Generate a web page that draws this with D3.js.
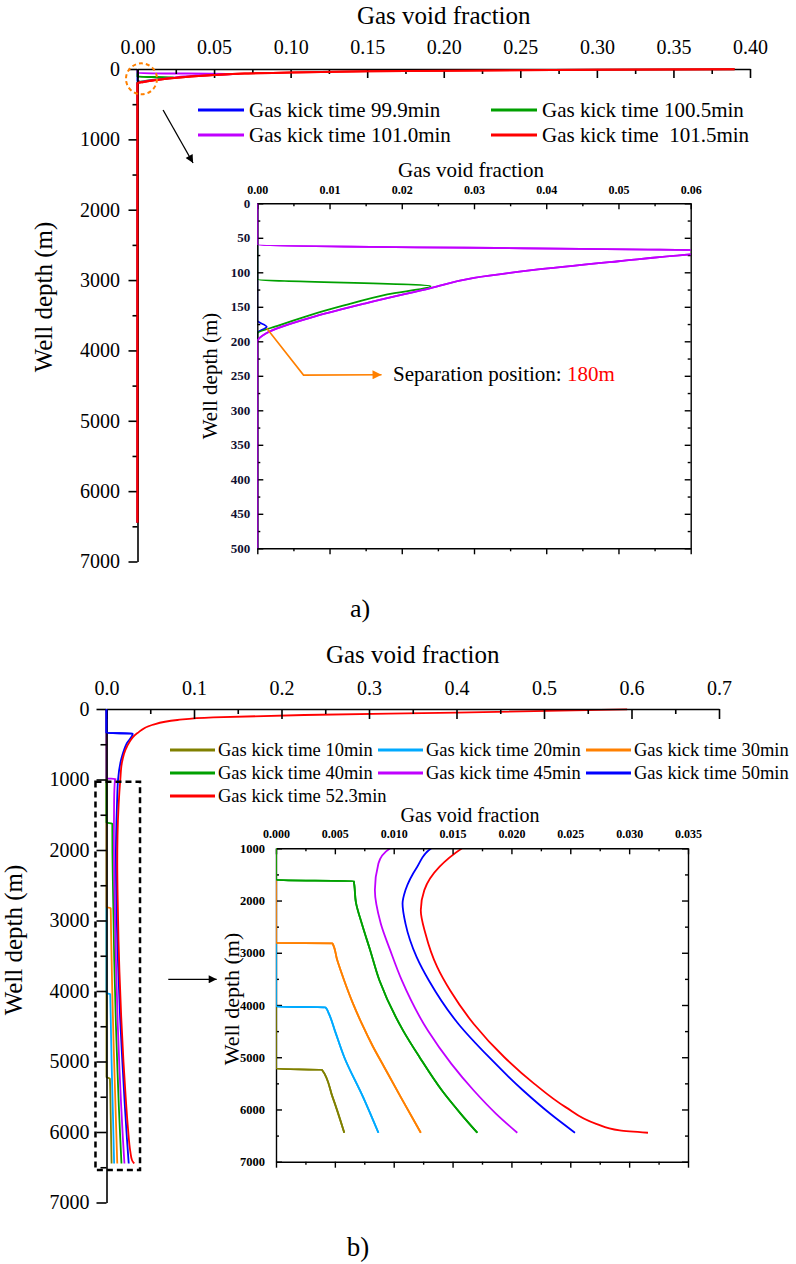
<!DOCTYPE html>
<html><head><meta charset="utf-8">
<script src="https://cdn.jsdelivr.net/npm/d3@7"></script>
<style>
body{margin:0;background:#fff}
svg{display:block}
svg text{font-family:"Liberation Serif","DejaVu Serif",serif}
</style>
</head><body>
<svg id="chart" width="796" height="1264"></svg>
<script>
// ================= DATA =================
// Panel a) — series names and colours
const namesA = ["Gas kick time 99.9min", "Gas kick time 100.5min", "Gas kick time 101.0min", "Gas kick time  101.5min"];
const colorsA = ["#0000ff", "#00a000", "#c000ff", "#ff0000"];
// each point: [gas void fraction, well depth (m)]
const a_kick999 = [[0,0],[0,170],[0.0013,179],[0,188],[0,6450]];
const a_kick1005 = [[0,0],[0,110],[0.024,120],[0.018,132],[0.012,148],[0.007,163],[0.003,177],[0,189],[0,6450]];
const a_kick1010 = [[0,0],[0,60],[0.066,69.5],[0.06,74],[0.05,84],[0.038,97],[0.03,108],[0.024,123],[0.015,145],[0.008,164],[0.0013,188],[0,200],[0,6450]];
const a_kick1015 = [[0.39,3],[0.3,12],[0.2,24],[0.15,33],[0.1,48],[0.07,65],[0.05,85],[0.035,105],[0.02,135],[0.01,165],[0.004,185],[0,200],[0,6450]];

// Panel b) — series names and colours
const namesB = ["Gas kick time 10min", "Gas kick time 20min", "Gas kick time 30min", "Gas kick time 40min", "Gas kick time 45min", "Gas kick time 50min", "Gas kick time 52.3min"];
const colorsB = ["#808000", "#00aaff", "#ff8000", "#00a000", "#c000ff", "#0000ff", "#ff0000"];
const b_kick10 = [[0,0],[0,5222],[0.0039,5240],[0.0048,5760],[0.0058,6446]];
const b_kick20 = [[0,0],[0,4032],[0.0042,4045],[0.0045,4172],[0.005,4490],[0.0058,5000],[0.0074,5764],[0.0087,6446]];
const b_kick30 = [[0,0],[0,2812],[0.0048,2822],[0.0052,3140],[0.0058,3535],[0.0065,3950],[0.0073,4363],[0.0082,4780],[0.0092,5191],[0.0106,5764],[0.0123,6446]];
const b_kick40 = [[0,0],[0,1610],[0.0066,1625],[0.0068,2050],[0.0073,2450],[0.008,2950],[0.0088,3535],[0.0108,4490],[0.0122,5000],[0.0141,5637],[0.0157,6083],[0.0171,6446]];
const b_kick45 = [[0,0],[0,985],[0.0105,992],[0.0097,1000],[0.0087,1290],[0.0084,1800],[0.0089,2440],[0.0097,2950],[0.0107,3535],[0.0129,4490],[0.0149,5127],[0.0168,5637],[0.0187,6083],[0.0205,6446]];
const b_kick50 = [[0,0],[0,340],[0.030,348],[0.023,490],[0.0175,680],[0.0132,1000],[0.012,1352],[0.011,1800],[0.01075,2058],[0.011,2442],[0.01195,3083],[0.013,3535],[0.0155,4363],[0.0181,5000],[0.021,5637],[0.0233,6083],[0.0254,6446]];
const b_kick523 = [[0.595,5],[0.4,52],[0.226,85],[0.122,118],[0.081,156],[0.052,227],[0.035,345],[0.0233,535],[0.0175,770],[0.0158,1000],[0.0139,1352],[0.0126,1800],[0.0123,2186],[0.0127,2635],[0.0137,3276],[0.0148,3724],[0.0168,4363],[0.0194,5000],[0.0219,5500],[0.0246,5955],[0.0272,6274],[0.0292,6401],[0.0316,6446]];

// Tick values
const ticksAx = [0, 0.05, 0.10, 0.15, 0.20, 0.25, 0.30, 0.35, 0.40];
const ticksDepth = [0, 1000, 2000, 3000, 4000, 5000, 6000, 7000];
const ticksInsetAx = [0, 0.01, 0.02, 0.03, 0.04, 0.05, 0.06];
const ticksInsetAy = [0, 50, 100, 150, 200, 250, 300, 350, 400, 450, 500];
const ticksBx = [0, 0.1, 0.2, 0.3, 0.4, 0.5, 0.6, 0.7];
const ticksInsetBx = [0, 0.005, 0.010, 0.015, 0.020, 0.025, 0.030, 0.035];
const ticksInsetBy = [1000, 2000, 3000, 4000, 5000, 6000, 7000];

// Annotations (data units)
const sepArrow = [[0.0013,181],[0.0064,249],[0.0172,248.5]];
const sepLabelPos = [0.0188, 248];
const circleA = [0.0026, 140];
const arrowA = [[0.0167,583],[0.0363,1336]];
const boxB = [[-0.0126,1031],[0.0383,6539]];
const arrowB = [[0.0706,3834],[0.1259,3834]];

// ================= DRAWING =================
const FONT = "Liberation Serif, DejaVu Serif, serif";
const svg = d3.select("#chart");
svg.append("rect").attr("width",796).attr("height",1264).attr("fill","#fff");
const defs = svg.append("defs");
function marker(id, color, w, h) {
  defs.append("marker").attr("id", id).attr("viewBox","0 0 10 10").attr("refX",10).attr("refY",5)
    .attr("markerWidth", w).attr("markerHeight", h).attr("markerUnits","userSpaceOnUse").attr("orient","auto")
    .append("path").attr("d","M0,0L10,5L0,10Z").attr("fill", color);
}
marker("arrK", "#000", 11, 8);
marker("arrO", "#ff8000", 14, 9);

const mid = arr => arr.slice(0,-1).map((v,i)=> (v + arr[i+1]) / 2);

function addAxis(gen, tx, ty, o) {
  o = o || {};
  const g = svg.append("g").attr("transform", `translate(${tx},${ty})`).call(gen);
  g.attr("font-family", FONT).attr("font-size", o.fs || 20).attr("font-weight", o.fw || "normal");
  if (o.noDomain) g.select(".domain").remove();
  else g.select(".domain").attr("stroke","#000").attr("stroke-width", o.sw || 1.6);
  g.selectAll(".tick line").attr("stroke","#000").attr("stroke-width", o.sw || 1.6);
  g.selectAll(".tick text").attr("fill", o.color || "#000").style("font-family", FONT);
  return g;
}
function txt(x, y, s, o) {
  o = o || {};
  const t = svg.append("text").attr("x", x).attr("y", y).text(s)
    .style("font-family", FONT).attr("font-size", o.fs || 20)
    .attr("text-anchor", o.anchor || "middle").attr("fill", o.fill || "#000")
    .attr("dominant-baseline", "central").style("white-space","pre");
  if (o.rot) t.attr("transform", `rotate(${o.rot},${x},${y})`);
  if (o.fw) t.attr("font-weight", o.fw);
  return t;
}
function drawLine(parent, data, x, y, color, w) {
  parent.append("path").datum(data)
    .attr("d", d3.line().curve(d3.curveMonotoneY).x(d => x(d[0])).y(d => y(d[1])))
    .attr("fill","none").attr("stroke", color).attr("stroke-width", w)
    .attr("stroke-linejoin","round");
}
const blank = () => "";

// ---------- Panel a main ----------
const xA = d3.scaleLinear().domain([0, 0.4]).range([137.5, 750]);
const yA = d3.scaleLinear().domain([0, 7000]).range([69, 561.5]);
const seriesA = [a_kick999, a_kick1005, a_kick1010, a_kick1015];
const gA = svg.append("g");
seriesA.forEach((s,i) => drawLine(gA, s, xA, yA, colorsA[i], 2));

addAxis(d3.axisTop(xA).tickValues(mid(ticksAx)).tickFormat(blank).tickSizeInner(-5).tickSizeOuter(0), 0, yA(0), {noDomain:true});
addAxis(d3.axisTop(xA).tickValues(ticksAx).tickFormat(d3.format(".2f")).tickSizeInner(-9).tickSizeOuter(0).tickPadding(15), 0, yA(0), {fs:20});
addAxis(d3.axisLeft(yA).tickValues(mid(ticksDepth)).tickFormat(blank).tickSize(5).tickSizeOuter(0), xA(0), 0, {noDomain:true});
addAxis(d3.axisLeft(yA).tickValues(ticksDepth).tickFormat(d3.format("d")).tickSize(9).tickSizeOuter(0).tickPadding(8.5), xA(0), 0, {fs:20});
drawLine(svg.append("g"), a_kick1015, xA, yA, colorsA[3], 2);

txt((xA.range()[0] + xA.range()[1]) / 2, 15, "Gas void fraction", {fs:25});
txt(43, 297, "Well depth (m)", {fs:25, rot:-90});

// legend a
const legA = [[198,110],[491,110],[198,135],[491,135]];
namesA.forEach((n,i) => {
  const [lx, ly] = legA[i];
  svg.append("line").attr("x1", lx).attr("x2", lx + 46).attr("y1", ly).attr("y2", ly)
    .attr("stroke", colorsA[i]).attr("stroke-width", 3);
  txt(lx + 51, ly, n, {fs:21, anchor:"start"});
});

// orange dashed circle & black arrow
svg.append("circle").attr("cx", xA(circleA[0])).attr("cy", yA(circleA[1])).attr("r", 15.5)
  .attr("fill","none").attr("stroke","#ff8000").attr("stroke-width",2).attr("stroke-dasharray","4,3");
svg.append("line").attr("x1", xA(arrowA[0][0])).attr("y1", yA(arrowA[0][1]))
  .attr("x2", xA(arrowA[1][0])).attr("y2", yA(arrowA[1][1]))
  .attr("stroke","#000").attr("stroke-width",1.3).attr("marker-end","url(#arrK)");

// ---------- Panel a inset ----------
const xIA = d3.scaleLinear().domain([0, 0.06]).range([257.3, 690.7]);
const yIA = d3.scaleLinear().domain([0, 500]).range([203.3, 548.3]);
defs.append("clipPath").attr("id","clipIA").append("rect")
  .attr("x", xIA(0)).attr("y", yIA(0)).attr("width", xIA(0.06) - xIA(0)).attr("height", yIA(500) - yIA(0));
const gIA = svg.append("g").attr("clip-path","url(#clipIA)");
[a_kick999, a_kick1005, a_kick1010].forEach((s,i) => drawLine(gIA, s, xIA, yIA, colorsA[i], 1.8));

const minIAx = mid(ticksInsetAx), minIAy = mid(ticksInsetAy);
addAxis(d3.axisTop(xIA).tickValues(minIAx).tickFormat(blank).tickSizeInner(-3).tickSizeOuter(0), 0, yIA(0), {noDomain:true, sw:1.4});
addAxis(d3.axisTop(xIA).tickValues(ticksInsetAx).tickFormat(d3.format(".2f")).tickSizeInner(-6).tickSizeOuter(0).tickPadding(9), 0, yIA(0), {fs:12, fw:"bold", sw:1.4});
addAxis(d3.axisBottom(xIA).tickValues(minIAx).tickFormat(blank).tickSizeInner(3).tickSizeOuter(0), 0, yIA(500), {noDomain:true, sw:1.4});
addAxis(d3.axisBottom(xIA).tickValues(ticksInsetAx).tickFormat(blank).tickSizeInner(6).tickSizeOuter(0), 0, yIA(500), {sw:1.4});
addAxis(d3.axisLeft(yIA).tickValues(minIAy).tickFormat(blank).tickSizeInner(-3).tickSizeOuter(0), xIA(0), 0, {noDomain:true, sw:1.4});
addAxis(d3.axisLeft(yIA).tickValues(ticksInsetAy).tickFormat(d3.format("d")).tickSizeInner(-6).tickSizeOuter(0).tickPadding(7), xIA(0), 0, {fs:13, fw:"bold", sw:1.4, color:"#101030"});
addAxis(d3.axisRight(yIA).tickValues(minIAy).tickFormat(blank).tickSizeInner(-3).tickSizeOuter(0), xIA(0.06), 0, {noDomain:true, sw:1.4});
addAxis(d3.axisRight(yIA).tickValues(ticksInsetAy).tickFormat(blank).tickSizeInner(-6).tickSizeOuter(0), xIA(0.06), 0, {sw:1.4});
svg.append("g").attr("clip-path","url(#clipIA)").call(g => drawLine(g, a_kick1010, xIA, yIA, colorsA[2], 1.8));

txt(471, 170, "Gas void fraction", {fs:21});
txt(210, 376, "Well depth (m)", {fs:21, rot:-90});

// separation annotation
svg.append("path").datum(sepArrow)
  .attr("d", d3.line().x(d => xIA(d[0])).y(d => yIA(d[1])))
  .attr("fill","none").attr("stroke","#ff8000").attr("stroke-width",1.6).attr("marker-end","url(#arrO)");
const sep = txt(xIA(sepLabelPos[0]), yIA(sepLabelPos[1]), "Separation position: ", {fs:21, anchor:"start"});
sep.append("tspan").attr("fill","#ff0000").text("180m");

txt(360, 608, "a)", {fs:26});

// ---------- Panel b main ----------
const xB = d3.scaleLinear().domain([0, 0.7]).range([106.5, 719]);
const yB = d3.scaleLinear().domain([0, 7000]).range([709, 1202.5]);
const seriesB = [b_kick10, b_kick20, b_kick30, b_kick40, b_kick45, b_kick50, b_kick523];
const gB = svg.append("g");
seriesB.forEach((s,i) => drawLine(gB, s, xB, yB, colorsB[i], 1.8));

addAxis(d3.axisTop(xB).tickValues(mid(ticksBx)).tickFormat(blank).tickSizeInner(-5).tickSizeOuter(0), 0, yB(0), {noDomain:true});
addAxis(d3.axisTop(xB).tickValues(ticksBx).tickFormat(d3.format(".1f")).tickSizeInner(-10).tickSizeOuter(0).tickPadding(14), 0, yB(0), {fs:20});
addAxis(d3.axisLeft(yB).tickValues(mid(ticksDepth)).tickFormat(blank).tickSize(6).tickSizeOuter(0), xB(0), 0, {noDomain:true});
addAxis(d3.axisLeft(yB).tickValues(ticksDepth).tickFormat(d3.format("d")).tickSize(10).tickSizeOuter(0).tickPadding(7), xB(0), 0, {fs:20});
drawLine(svg.append("g"), b_kick50.slice(0,3), xB, yB, colorsB[5], 1.8);

txt((xB.range()[0] + xB.range()[1]) / 2, 654, "Gas void fraction", {fs:25});
txt(13, 940, "Well depth (m)", {fs:25, rot:-90});

// legend b
const legBx = [170, 378, 586], legBy = [750, 773, 796];
namesB.forEach((n,i) => {
  const lx = legBx[i % 3], ly = legBy[Math.floor(i / 3)];
  svg.append("line").attr("x1", lx).attr("x2", lx + 45).attr("y1", ly).attr("y2", ly)
    .attr("stroke", colorsB[i]).attr("stroke-width", 3);
  txt(lx + 48, ly, n, {fs:18.5, anchor:"start"});
});

// dashed box & arrow
svg.append("rect").attr("x", xB(boxB[0][0])).attr("y", yB(boxB[0][1]))
  .attr("width", xB(boxB[1][0]) - xB(boxB[0][0])).attr("height", yB(boxB[1][1]) - yB(boxB[0][1]))
  .attr("fill","none").attr("stroke","#000").attr("stroke-width",2.5).attr("stroke-dasharray","6,4");
svg.append("line").attr("x1", xB(arrowB[0][0])).attr("y1", yB(arrowB[0][1]))
  .attr("x2", xB(arrowB[1][0])).attr("y2", yB(arrowB[1][1]))
  .attr("stroke","#000").attr("stroke-width",1.3).attr("marker-end","url(#arrK)");

// ---------- Panel b inset ----------
const xIB = d3.scaleLinear().domain([0, 0.035]).range([276, 688]);
const yIB = d3.scaleLinear().domain([1000, 7000]).range([848.3, 1161.7]);
defs.append("clipPath").attr("id","clipIB").append("rect")
  .attr("x", xIB(0)).attr("y", yIB(1000)).attr("width", xIB(0.035) - xIB(0)).attr("height", yIB(7000) - yIB(1000));
const gIB = svg.append("g").attr("clip-path","url(#clipIB)");
seriesB.forEach((s,i) => drawLine(gIB, s, xIB, yIB, colorsB[i], 1.8));

const minIBx = mid(ticksInsetBx), minIBy = mid(ticksInsetBy);
addAxis(d3.axisTop(xIB).tickValues(minIBx).tickFormat(blank).tickSizeInner(-3).tickSizeOuter(0), 0, yIB(1000), {noDomain:true, sw:1.4});
addAxis(d3.axisTop(xIB).tickValues(ticksInsetBx).tickFormat(d3.format(".3f")).tickSizeInner(-6).tickSizeOuter(0).tickPadding(10), 0, yIB(1000), {fs:12, fw:"bold", sw:1.4});
addAxis(d3.axisBottom(xIB).tickValues(minIBx).tickFormat(blank).tickSizeInner(3).tickSizeOuter(0), 0, yIB(7000), {noDomain:true, sw:1.4});
addAxis(d3.axisBottom(xIB).tickValues(ticksInsetBx).tickFormat(blank).tickSizeInner(6).tickSizeOuter(0), 0, yIB(7000), {sw:1.4});
addAxis(d3.axisLeft(yIB).tickValues(minIBy).tickFormat(blank).tickSizeInner(-3).tickSizeOuter(0), xIB(0), 0, {noDomain:true, sw:1.4});
addAxis(d3.axisLeft(yIB).tickValues(ticksInsetBy).tickFormat(d3.format("d")).tickSizeInner(-6).tickSizeOuter(0).tickPadding(11), xIB(0), 0, {fs:12.5, fw:"bold", sw:1.4});
addAxis(d3.axisRight(yIB).tickValues(minIBy).tickFormat(blank).tickSizeInner(-3).tickSizeOuter(0), xIB(0.035), 0, {noDomain:true, sw:1.4});
addAxis(d3.axisRight(yIB).tickValues(ticksInsetBy).tickFormat(blank).tickSizeInner(-6).tickSizeOuter(0), xIB(0.035), 0, {sw:1.4});
const gIB2 = svg.append("g").attr("clip-path","url(#clipIB)");
seriesB.slice(0,4).forEach((s,i) => drawLine(gIB2, s, xIB, yIB, colorsB[i], 1.8));

txt(470, 815, "Gas void fraction", {fs:20});
txt(231, 999, "Well depth (m)", {fs:22, rot:-90});

txt(358, 1247, "b)", {fs:27});
</script>
</body></html>
